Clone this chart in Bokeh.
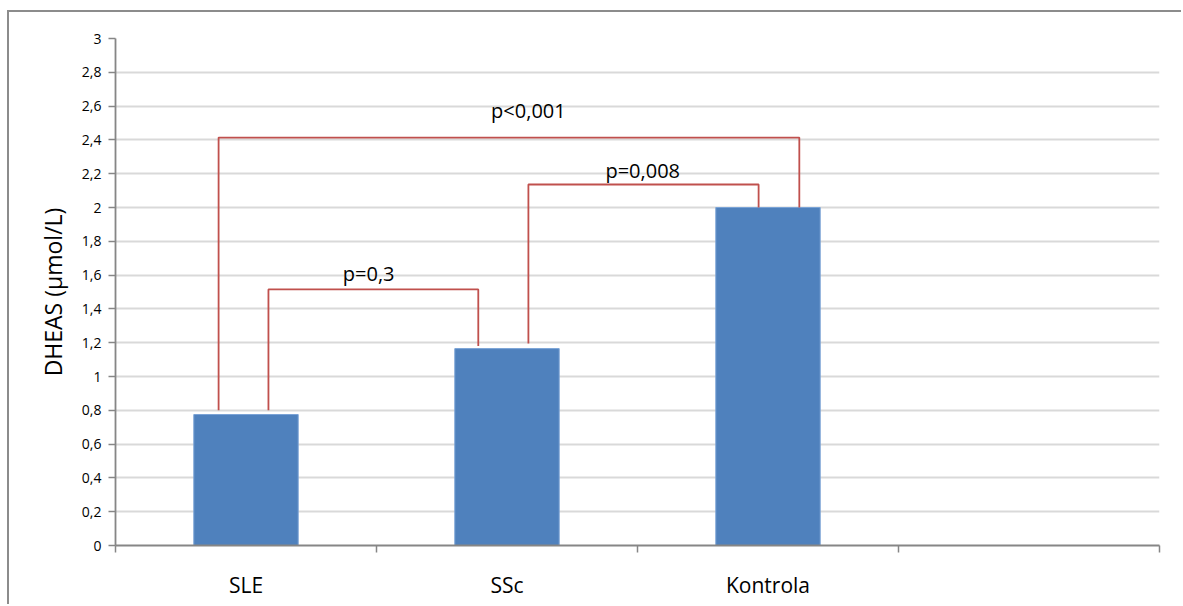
from bokeh.plotting import figure
from bokeh.models import FixedTicker, ColumnDataSource, Range1d
from bokeh.embed import file_html
from bokeh.resources import INLINE
from bokeh.core.properties import value

categories = ["SLE", "SSc", "Kontrola"]
dheas = [0.775, 1.165, 2.0]
y_ticks = [0, 0.2, 0.4, 0.6, 0.8, 1, 1.2, 1.4, 1.6, 1.8, 2, 2.2, 2.4, 2.6, 2.8, 3]
y_tick_labels = ["0", "0,2", "0,4", "0,6", "0,8", "1", "1,2", "1,4", "1,6", "1,8", "2", "2,2", "2,4", "2,6", "2,8", "3"]

# significance brackets: left x, right x, height, left leg bottom, right leg bottom
br_x0 = [0.395, 0.586, 1.582]
br_x1 = [2.62, 1.39, 2.464]
br_top = [2.414, 1.515, 2.136]
br_b0 = [0.8, 0.8, 1.195]
br_b1 = [2.0, 1.18, 2.0]
# bracket labels
br_label = ["p<0,001", "p=0,3", "p=0,008"]
br_label_x = [1.582, 0.97, 2.02]
br_label_y = [2.574, 1.609, 2.219]

FONT = "Open Sans"
x_pos = [i + 0.5 for i in range(len(categories))]

p = figure(width=1174, height=594, output_backend="svg", toolbar_location=None,
           x_range=Range1d(0, 4), y_range=Range1d(0, 3),
           min_border_left=106, min_border_right=24, min_border_top=26, min_border_bottom=61)
p.styles = {"border-top": "2px solid #8c8c8c", "border-left": "2px solid #8c8c8c",
            "margin-left": "7px", "margin-top": "10px"}
p.outline_line_color = None
p.background_fill_color = "white"

p.vbar(x=x_pos, top=dheas, width=0.4, fill_color="#4f81bd", line_color="#7aa3d6", line_width=1)

for i in range(len(br_x0)):
    xs = [br_x0[i], br_x0[i], br_x1[i], br_x1[i]]
    ys = [br_b0[i], br_top[i], br_top[i], br_b1[i]]
    p.line(xs, ys, line_color="#c0504d", line_width=1.8)

src = ColumnDataSource(dict(x=br_label_x, y=br_label_y, t=br_label))
p.text(x="x", y="y", text="t", source=src, text_align="center", text_baseline="middle",
       text_font=value(FONT), text_font_size="20px", text_color="#000000")

p.xgrid.visible = False
p.ygrid.ticker = FixedTicker(ticks=y_ticks)
p.ygrid.grid_line_color = "#d9d9d9"
p.ygrid.grid_line_width = 1.8

p.yaxis.ticker = FixedTicker(ticks=y_ticks)
p.yaxis.major_label_overrides = {t: l for t, l in zip(y_ticks, y_tick_labels)}
p.yaxis.minor_tick_line_color = None
p.yaxis.major_tick_out = 7
p.yaxis.major_tick_in = 0
p.yaxis.axis_line_color = "#868686"
p.yaxis.major_tick_line_color = "#868686"
p.yaxis.axis_line_width = 1.8
p.yaxis.major_tick_line_width = 1.5
p.yaxis.major_label_text_font = FONT
p.yaxis.major_label_text_font_size = "14px"
p.yaxis.major_label_text_color = "#000000"
p.yaxis.major_label_standoff = 7
p.yaxis.axis_label = "DHEAS (µmol/L)"
p.yaxis.axis_label_text_font = FONT
p.yaxis.axis_label_text_font_size = "23px"
p.yaxis.axis_label_text_font_style = "normal"
p.yaxis.axis_label_text_color = "#000000"
p.yaxis.axis_label_standoff = 10

p.xaxis.ticker = FixedTicker(ticks=x_pos, minor_ticks=[0, 1, 2, 3, 4])
p.xaxis.major_label_overrides = {x: c for x, c in zip(x_pos, categories)}
p.xaxis.major_tick_line_color = None
p.xaxis.minor_tick_out = 7
p.xaxis.minor_tick_in = 0
p.xaxis.minor_tick_line_color = "#868686"
p.xaxis.minor_tick_line_width = 1.5
p.xaxis.axis_line_color = "#868686"
p.xaxis.axis_line_width = 1.8
p.xaxis.major_label_text_font = FONT
p.xaxis.major_label_text_font_size = "21px"
p.xaxis.major_label_text_color = "#000000"
p.xaxis.major_label_standoff = 18

open("out.html", "w").write(file_html(p, INLINE))
